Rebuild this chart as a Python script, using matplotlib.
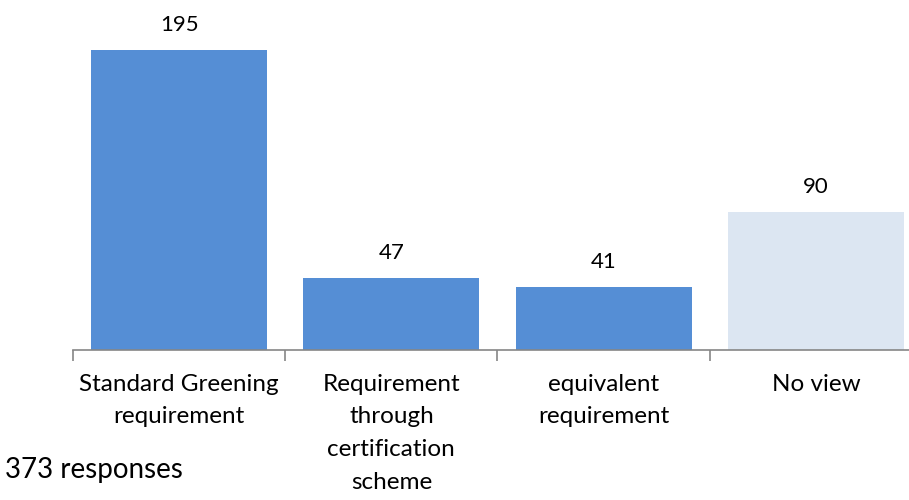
import matplotlib
matplotlib.use("Agg")
import matplotlib.pyplot as plt
import numpy as np

categories = ["Standard Greening\nrequirement",
              "Requirement\nthrough\ncertification\nscheme",
              "equivalent\nrequirement",
              "No view"]
values = [195, 47, 41, 90]
colors = ["#558ED5", "#558ED5", "#558ED5", "#DCE6F2"]
note = "373 responses"

plt.rcParams['font.family'] = ['Lato', 'DejaVu Sans']

fig = plt.figure(figsize=(9.09, 5.0), dpi=100)
ax = fig.add_axes([73 / 909, 0.30, 849 / 909, 0.70])

x = np.arange(len(values))
bars = ax.bar(x, values, width=0.83, color=colors, zorder=2)
ax.set_xlim(-0.5, len(values) - 0.5)
ax.set_ylim(0, 227.5)

for xi, v in zip(x, values):
    ax.text(xi, v + 16, str(v), ha="center", va="center", fontsize=16, color="#000000")

for s in ["top", "right", "left"]:
    ax.spines[s].set_visible(False)
ax.spines["bottom"].set_color("#868686")
ax.spines["bottom"].set_linewidth(1.2)
ax.set_yticks([])

ax.set_xticks(x)
ax.set_xticklabels(categories, fontsize=17.5, linespacing=1.69)
ax.tick_params(axis="x", which="major", length=0, pad=17)
ax.set_xticks(np.arange(-0.5, len(values), 1.0), minor=True)
ax.tick_params(axis="x", which="minor", length=8, width=1.2, color="#868686", direction="out")

fig.text(5 / 909, 1 - 470 / 500, note, ha="left", va="center", fontsize=20, color="#000000")

fig.savefig("out.png", dpi=100)
